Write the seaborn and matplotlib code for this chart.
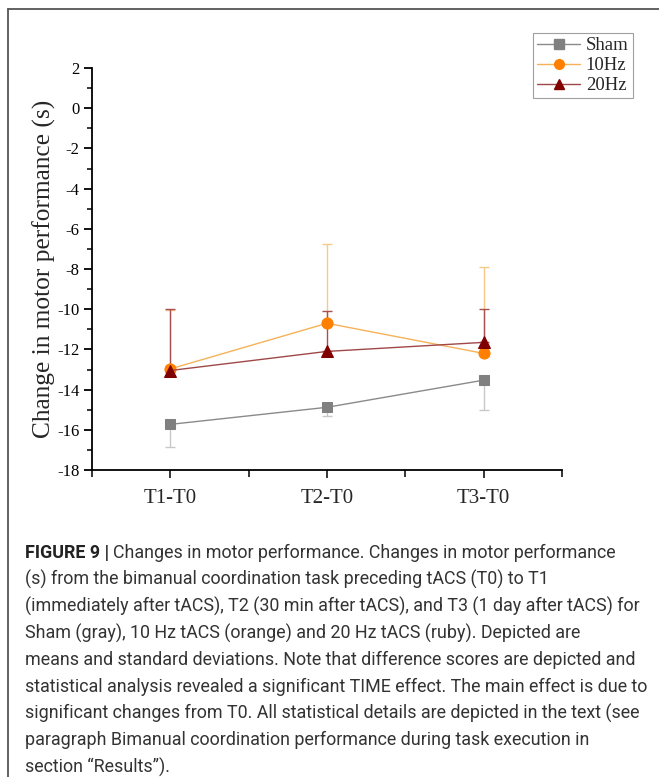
import matplotlib
matplotlib.use("Agg")
import matplotlib.pyplot as plt
import seaborn as sns
import numpy as np
import pandas as pd
from matplotlib.ticker import MultipleLocator, FixedLocator
from matplotlib.lines import Line2D

# ---- data ----
timepoints = ["T1-T0", "T2-T0", "T3-T0"]
groups = ["Sham", "10Hz", "20Hz"]
sham_mean = [-15.73, -14.88, -13.53]
sham_sd = [1.12, 0.42, 1.47]          # drawn downward
hz10_mean = [-12.97, -10.70, -12.20]
hz10_sd = [2.95, 3.93, 4.28]          # drawn upward
hz20_mean = [-13.05, -12.10, -11.65]
hz20_sd = [3.08, 2.00, 1.65]          # drawn upward

caption_lines = [
    "Changes in motor performance. Changes in motor performance",
    "(s) from the bimanual coordination task preceding tACS (T0) to T1",
    "(immediately after tACS), T2 (30 min after tACS), and T3 (1 day after tACS) for",
    "Sham (gray), 10 Hz tACS (orange) and 20 Hz tACS (ruby). Depicted are",
    "means and standard deviations. Note that difference scores are depicted and",
    "statistical analysis revealed a significant TIME effect. The main effect is due to",
    "significant changes from T0. All statistical details are depicted in the text (see",
    "paragraph Bimanual coordination performance during task execution in",
    "section \u201cResults\u201d).",
]

sns.set_theme(style="ticks")
plt.rcParams["font.family"] = ["Liberation Serif", "DejaVu Serif"]
plt.rcParams["axes.unicode_minus"] = False

fig = plt.figure(figsize=(6.59, 7.77), dpi=100)
ax = fig.add_axes([92 / 659, 1 - 470 / 777, (562 - 92) / 659, (470 - 68) / 777])

x = np.arange(1, len(timepoints) + 1)
rows = []
for g, m in zip(groups, [sham_mean, hz10_mean, hz20_mean]):
    for xi, v in zip(x, m):
        rows.append({"group": g, "x": xi, "value": v})
df = pd.DataFrame(rows)

line_cols = {"Sham": "#8a8a8a", "10Hz": "#f5b25a", "20Hz": "#a04848"}
mark_cols = {"Sham": "#808080", "10Hz": "#ff8000", "20Hz": "#800000"}
err_cols = {"Sham": "#c8c8c8", "10Hz": "#f7c98a", "20Hz": "#a85050"}
markers = {"Sham": "s", "10Hz": "o", "20Hz": "^"}

# error bars (one-sided)
ax.errorbar(x, sham_mean, yerr=[sham_sd, [0] * 3], fmt="none", ecolor=err_cols["Sham"],
            elinewidth=1, capsize=3.5, capthick=1, zorder=1)
ax.errorbar(x, hz10_mean, yerr=[[0] * 3, hz10_sd], fmt="none", ecolor=err_cols["10Hz"],
            elinewidth=1, capsize=3.5, capthick=1, zorder=1)
ax.errorbar(x, hz20_mean, yerr=[[0] * 3, hz20_sd], fmt="none", ecolor=err_cols["20Hz"],
            elinewidth=1, capsize=3.5, capthick=1, zorder=1.1)

for g in groups:
    sub = df[df.group == g]
    sns.lineplot(data=sub, x="x", y="value", ax=ax, color=line_cols[g], lw=1.0,
                 marker=markers[g], markersize=8 if g != "Sham" else 7,
                 markerfacecolor=mark_cols[g], markeredgecolor=mark_cols[g],
                 legend=False, zorder=3, errorbar=None)

ax.set_xlim(0.5, 3.5)
ax.set_ylim(-18, 2)
ax.set_xticks(x)
ax.set_xticklabels(timepoints, fontsize=15)
ax.xaxis.set_minor_locator(FixedLocator([0.5, 1.5, 2.5, 3.5]))
ax.yaxis.set_major_locator(MultipleLocator(2))
ax.yaxis.set_minor_locator(MultipleLocator(1))
ax.tick_params(axis="y", which="major", length=6, width=1.3, labelsize=12, direction="out", pad=3, colors="black")
ax.tick_params(axis="y", which="minor", length=3.5, width=1.3, direction="out")
ax.tick_params(axis="x", which="major", length=6, width=1.3, direction="out", pad=8)
ax.tick_params(axis="x", which="minor", length=5, width=1.3, direction="out")
ax.set_xlabel("")
ax.set_ylabel("Change in motor performance (s)", fontsize=18.3, labelpad=1)
sns.despine(ax=ax)
for s in ["left", "bottom"]:
    ax.spines[s].set_linewidth(1.3)
    ax.spines[s].set_color("black")
ax.grid(False)

handles = [Line2D([], [], color=line_cols[g], lw=1.0, marker=markers[g],
                  markerfacecolor=mark_cols[g], markeredgecolor=mark_cols[g], markersize=7)
           for g in groups]
leg = fig.legend(handles, groups, loc="upper left", bbox_to_anchor=(533 / 659, 1 - 33 / 777),
                 frameon=True, fancybox=False, fontsize=13.5, handlelength=2.3,
                 borderpad=0.22, labelspacing=0.15, handletextpad=0.3, borderaxespad=0)
leg.get_frame().set_edgecolor("#888888")
leg.get_frame().set_linewidth(0.8)

# outer frame (left and top)
fig.add_artist(Line2D([7.5 / 659, 7.5 / 659], [0, 1 - 9 / 777], transform=fig.transFigure,
                      color="#555555", lw=1.3))
fig.add_artist(Line2D([7.5 / 659, 1], [1 - 9 / 777, 1 - 9 / 777], transform=fig.transFigure,
                      color="#555555", lw=1.3))

# caption
cap_font = ["Roboto", "DejaVu Sans"]
cap_size = 12.9
x0 = 25 / 659
y0 = 1 - 553 / 777
dy = 26.75 / 777
bold = fig.text(x0, y0, "FIGURE 9 |", family=cap_font, fontsize=cap_size, weight="bold",
                color="#222222", va="center")
fig.canvas.draw()
bb = bold.get_window_extent(renderer=fig.canvas.get_renderer())
x1 = (bb.x1 + 4) / fig.bbox.width
for i, line in enumerate(caption_lines):
    fig.text(x1 if i == 0 else x0, y0 - i * dy, line, family=cap_font, fontsize=cap_size,
             color="#333333", va="center")

fig.savefig("out.png", dpi=100)
